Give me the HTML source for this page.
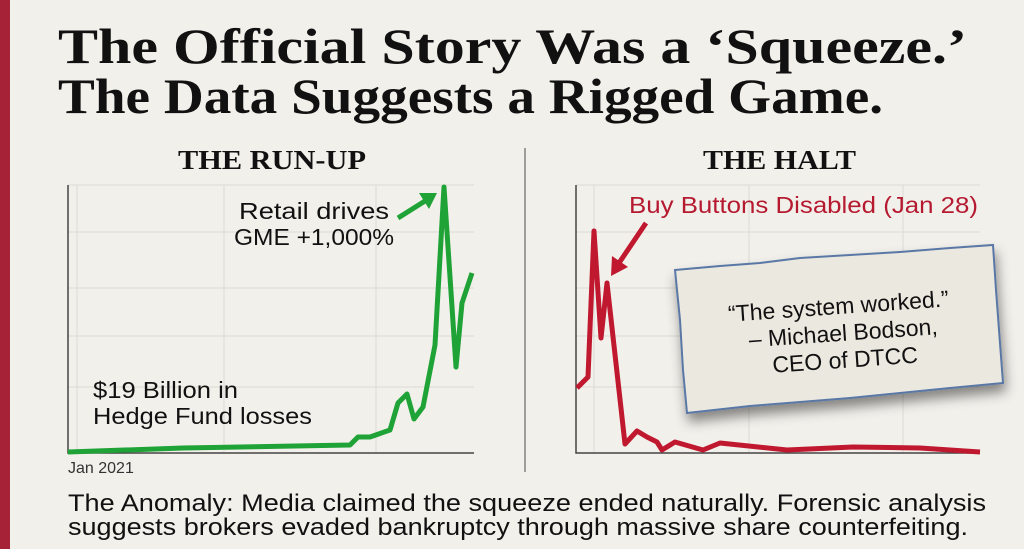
<!DOCTYPE html>
<html><head><meta charset="utf-8"><style>
html,body{margin:0;padding:0;background:#f2f0eb;}
svg{display:block}
</style></head><body>
<svg width="1024" height="549" viewBox="0 0 1024 549" xmlns="http://www.w3.org/2000/svg">
<defs>
<filter id="sh" x="-20%" y="-20%" width="140%" height="160%"><feDropShadow dx="2" dy="8" stdDeviation="6" flood-color="#000" flood-opacity="0.45"/></filter>
</defs>
<rect width="1024" height="549" fill="#f2f0eb"/>
<rect x="0" y="0" width="10" height="549" fill="#a52237"/>
<g font-family="Liberation Serif, serif" font-weight="bold" fill="#111">
<text x="58" y="63" font-size="50" textLength="909" lengthAdjust="spacingAndGlyphs">The Official Story Was a ‘Squeeze.’</text>
<text x="58" y="113" font-size="50" textLength="825" lengthAdjust="spacingAndGlyphs">The Data Suggests a Rigged Game.</text>
<text x="178" y="169" font-size="27" textLength="188" lengthAdjust="spacingAndGlyphs">THE RUN-UP</text>
<text x="703" y="169" font-size="27" textLength="153" lengthAdjust="spacingAndGlyphs">THE HALT</text>
</g>
<line x1="525" y1="148" x2="525" y2="472" stroke="#666" stroke-width="1.2"/>
<g stroke="#dcdad5" stroke-width="1">
<line x1="68" y1="185" x2="474" y2="185"/><line x1="68" y1="232" x2="474" y2="232"/><line x1="68" y1="288" x2="474" y2="288"/><line x1="68" y1="336" x2="474" y2="336"/><line x1="68" y1="387" x2="474" y2="387"/>
<line x1="77" y1="185" x2="77" y2="453"/><line x1="224" y1="185" x2="224" y2="453"/><line x1="376" y1="185" x2="376" y2="453"/>
<line x1="576" y1="185" x2="980" y2="185"/><line x1="576" y1="232" x2="980" y2="232"/><line x1="576" y1="288" x2="980" y2="288"/><line x1="576" y1="336" x2="980" y2="336"/><line x1="576" y1="387" x2="980" y2="387"/>
<line x1="594" y1="185" x2="594" y2="453"/><line x1="749" y1="185" x2="749" y2="453"/><line x1="903" y1="185" x2="903" y2="453"/>
</g>
<g stroke="#444" stroke-width="1.5" fill="none">
<polyline points="68,185 68,453 474,453"/>
<polyline points="576,185 576,453 980,453"/>
</g>
<polyline fill="none" stroke="#1fa336" stroke-width="5" stroke-linejoin="round" points="68,452 183,448 350,445 358,437 370,437 390,430 398,403 407,394 414,419 423,407 435,345 444,187 456,367 462,303 472,273"/>
<line x1="398" y1="218" x2="425" y2="201" stroke="#1fa336" stroke-width="5"/>
<polygon points="437,193 419,193 429,209" fill="#1fa336"/>
<polyline fill="none" stroke="#c0182f" stroke-width="5" stroke-linejoin="round" points="577,388 588,377 594,231 601,338 607,283 625,444 637,431 647,437 657,442 662,450 675,442 703,450 720,443 787,450 853,447 920,448 980,452"/>
<line x1="646" y1="223" x2="619" y2="263" stroke="#c0182f" stroke-width="5"/>
<polygon points="611,276 612,256 628,267" fill="#c0182f"/>
<g font-family="Liberation Sans, sans-serif" fill="#111">
<text x="314" y="219" font-size="23" text-anchor="middle" textLength="150" lengthAdjust="spacingAndGlyphs">Retail drives</text>
<text x="314" y="245" font-size="23" text-anchor="middle" textLength="160" lengthAdjust="spacingAndGlyphs">GME +1,000%</text>
<text x="93" y="398" font-size="23" textLength="145" lengthAdjust="spacingAndGlyphs">$19 Billion in</text>
<text x="93" y="424" font-size="23" textLength="219" lengthAdjust="spacingAndGlyphs">Hedge Fund losses</text>
<text x="68" y="473" font-size="16" fill="#333">Jan 2021</text>
<text x="629" y="213" font-size="23" fill="#b51a30" textLength="349" lengthAdjust="spacingAndGlyphs">Buy Buttons Disabled (Jan 28)</text>
<text x="68" y="511" font-size="24" textLength="918" lengthAdjust="spacingAndGlyphs">The Anomaly: Media claimed the squeeze ended naturally. Forensic analysis</text>
<text x="68" y="535" font-size="24" textLength="900" lengthAdjust="spacingAndGlyphs">suggests brokers evaded bankruptcy through massive share counterfeiting.</text>
</g>
<g filter="url(#sh)">
<polygon points="675,270 720,266 760,263 800,258 850,255 900,252 950,248 993,245 996,290 999,330 1003,383 950,388 900,393 850,398 800,402 750,406 687,413 683,370 680,320" fill="#ebe8df" stroke="#5a78a6" stroke-width="2"/>
</g>
<g font-family="Liberation Sans, sans-serif" font-size="23" fill="#111" text-anchor="middle" transform="rotate(-4 840 330)">
<text x="840" y="314">“The system worked.”</text>
<text x="843" y="341">– Michael Bodson,</text>
<text x="843" y="368">CEO of DTCC</text>
</g>
</svg>
</body></html>
